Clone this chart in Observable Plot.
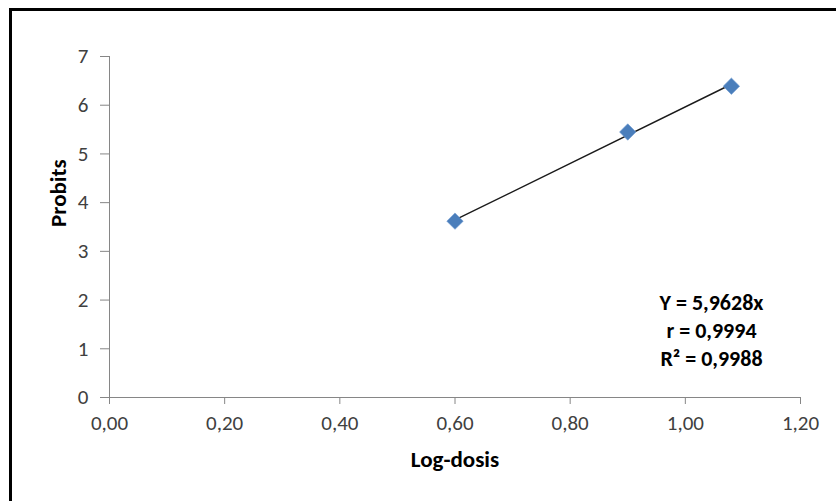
<!DOCTYPE html>
<html>
<head>
<meta charset="utf-8">
<script src="https://cdn.jsdelivr.net/npm/d3@7"></script>
<script src="https://cdn.jsdelivr.net/npm/@observablehq/plot@0.6"></script>
<style>
  html, body { margin: 0; padding: 0; background: #fff; }
  #wrap { position: relative; width: 836px; height: 501px; overflow: hidden; }
  #border { position: absolute; left: 9px; top: 8px; width: 900px; height: 600px;
            border-left: 3px solid #000; border-top: 3px solid #000; box-sizing: border-box; pointer-events: none; }
  #chart { position: absolute; left: 0; top: 0; }
</style>
</head>
<body>
<div id="wrap"><div id="chart"></div><div id="border"></div></div>
<script>
const logDose = [0.60, 0.90, 1.08];
const probits = [3.62, 5.45, 6.39];
const xTicks = [0, 0.2, 0.4, 0.6, 0.8, 1.0, 1.2];
const yTicks = [0, 1, 2, 3, 4, 5, 6, 7];
const annotationLines = ["Y = 5,9628x", "r = 0,9994", "R² = 0,9988"];
const xLabel = "Log-dosis";
const yLabel = "Probits";

const data = logDose.map((x, i) => ({x, y: probits[i]}));
const fmtX = d => d.toFixed(2).replace(".", ",");
const fmtY = d => d.toFixed(0);
const font = "Calibri, Carlito, Lato, sans-serif";
const axisColor = "#868686";
const textColor = "#404040";

const chart = Plot.plot({
  width: 836,
  height: 501,
  marginLeft: 109,
  marginRight: 36,
  marginTop: 56,
  marginBottom: 104,
  style: {fontFamily: font, fontSize: "20px", color: textColor, background: "transparent"},
  x: {domain: [0, 1.2]},
  y: {domain: [0, 7]},
  marks: [
    Plot.axisX({ticks: xTicks, tickFormat: fmtX, tickSize: 7, tickPadding: 11, stroke: axisColor, fill: textColor, fontSize: 21, label: null}),
    Plot.axisY({ticks: yTicks, tickFormat: fmtY, tickSize: 9, tickPadding: 12, stroke: axisColor, fill: textColor, fontSize: 21, label: null}),
    Plot.ruleX([0], {stroke: axisColor}),
    Plot.ruleY([0], {stroke: axisColor}),
    Plot.linearRegressionY(data, {x: "x", y: "y", ci: 0, stroke: "#1a1a1a", strokeWidth: 1.4}),
    Plot.dot(data, {x: "x", y: "y", symbol: "diamond2", r: 7.4, fill: "#4a7ebb", stroke: "#6f9bd1", strokeWidth: 0.6}),
    Plot.text([annotationLines.join("\n")], {frameAnchor: "right", dx: -89, dy: 102, textAnchor: "middle", lineAnchor: "middle", lineHeight: 1.27, fontSize: 22, fontWeight: "bold", fill: "#000"}),
    Plot.text([xLabel], {frameAnchor: "bottom", dy: 69, fontSize: 23, fontWeight: "bold", fill: "#000"}),
    Plot.text([yLabel], {frameAnchor: "left", dx: -51, rotate: -90, fontSize: 23, fontWeight: "bold", fill: "#000"})
  ]
});
document.getElementById("chart").appendChild(chart);
</script>
</body>
</html>
